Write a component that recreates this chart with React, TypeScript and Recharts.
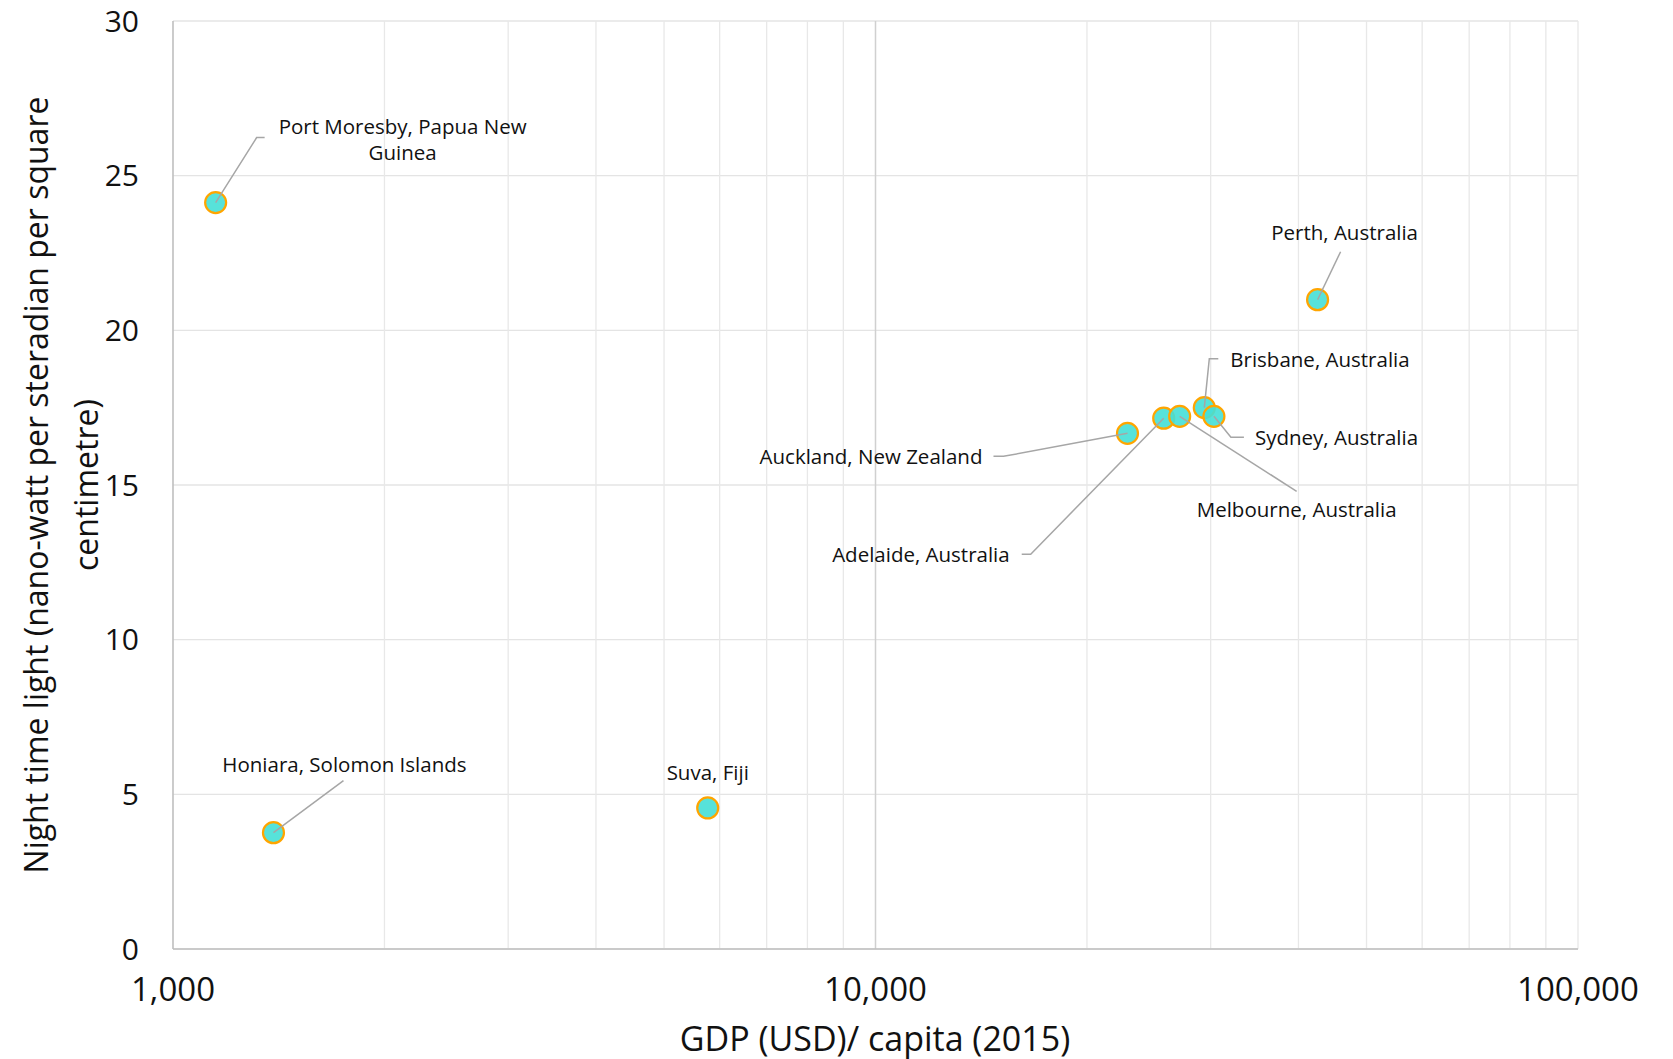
import { CartesianGrid, ReferenceLine, Scatter, ScatterChart, XAxis, YAxis } from "recharts";

const cities = [
  "Port Moresby, Papua New Guinea",
  "Honiara, Solomon Islands",
  "Suva, Fiji",
  "Auckland, New Zealand",
  "Adelaide, Australia",
  "Melbourne, Australia",
  "Brisbane, Australia",
  "Sydney, Australia",
  "Perth, Australia",
];
const gdpPerCapita = [1150, 1390, 5770, 22840, 25720, 27100, 29380, 30320, 42590];
const nightLight = [24.13, 3.76, 4.56, 16.67, 17.16, 17.22, 17.5, 17.22, 20.99];

const xTicks = [1000, 10000, 100000];
const yTicks = [0, 5, 10, 15, 20, 25, 30];
const minorX = [2000, 3000, 4000, 5000, 6000, 7000, 8000, 9000, 20000, 30000, 40000, 50000, 60000, 70000, 80000, 90000, 100000];
const majorX = [10000];

// label callouts: leader line path (relative to the point) and where the text sits
type Callout = { path: number[][]; tx: number; ty: number; anchor: "start" | "middle" | "end" };
const callouts: Record<string, Callout> = {
  "Port Moresby, Papua New Guinea": { path: [[41, -65], [49, -65]], tx: 187, ty: -77, anchor: "middle" },
  "Honiara, Solomon Islands": { path: [[70, -52]], tx: 71, ty: -69, anchor: "middle" },
  "Suva, Fiji": { path: [], tx: 0, ty: -36, anchor: "middle" },
  "Auckland, New Zealand": { path: [[-124, 23], [-134, 23]], tx: -145, ty: 23, anchor: "end" },
  "Adelaide, Australia": { path: [[-133, 136], [-142, 136]], tx: -154, ty: 136, anchor: "end" },
  "Melbourne, Australia": { path: [[117, 75]], tx: 117, ty: 93, anchor: "middle" },
  "Brisbane, Australia": { path: [[5, -49], [14, -49]], tx: 26, ty: -49, anchor: "start" },
  "Sydney, Australia": { path: [[17, 21], [30, 21]], tx: 41, ty: 21, anchor: "start" },
  "Perth, Australia": { path: [[23, -48]], tx: 27, ty: -68, anchor: "middle" },
};

const data = cities.map((name, i) => ({ name, gdp: gdpPerCapita[i], light: nightLight[i] }));

const FONT = "'Open Sans', sans-serif";

const wrap = (s: string, max: number) => {
  const lines: string[] = [];
  let cur = "";
  for (const w of s.split(" ")) {
    const next = cur ? cur + " " + w : w;
    if (next.length > max && cur) {
      lines.push(cur);
      cur = w;
    } else cur = next;
  }
  lines.push(cur);
  return lines;
};

const Dot = (props: any) => {
  const { cx, cy } = props;
  return <circle cx={cx} cy={cy} r={10.5} fill="#45DFD6" fillOpacity={0.9} stroke="#FFA500" strokeWidth={2.2} />;
};

const Callout = (props: any) => {
  const { cx, cy, payload } = props;
  const c = callouts[payload.name];
  if (!c) return null;
  const pts = [[0, 0], ...c.path].map(([dx, dy]) => `${cx + dx},${cy + dy}`).join(" ");
  const lines = wrap(payload.name, 24);
  return (
    <g>
      {c.path.length > 0 && <polyline points={pts} fill="none" stroke="#A6A6A6" strokeWidth={1.5} />}
      {lines.map((l, i) => (
        <text
          key={i}
          x={cx + c.tx}
          y={cy + c.ty + i * 26}
          textAnchor={c.anchor}
          dominantBaseline="central"
          fontFamily={FONT}
          fontSize={20.5}
          fill="#111"
        >
          {l}
        </text>
      ))}
    </g>
  );
};

export default function App() {
  return (
    <div style={{ position: "absolute", left: 0, top: 0, width: 1673, height: 1059, background: "#fff" }}>
      <ScatterChart width={1673} height={1059} margin={{ top: 21, right: 95, left: 93, bottom: 50 }}>
        <CartesianGrid stroke="#E4E4E4" strokeWidth={1.3} vertical={false} />
        {minorX.map((v) => (
          <ReferenceLine key={v} x={v} stroke="#E8E8E8" strokeWidth={1.3} />
        ))}
        {majorX.map((v) => (
          <ReferenceLine key={v} x={v} stroke="#D0D0D0" strokeWidth={1.5} />
        ))}
        <XAxis
          type="number"
          dataKey="gdp"
          scale="log"
          domain={[1000, 100000]}
          ticks={xTicks}
          allowDataOverflow
          height={60}
          tickSize={0}
          tickMargin={29}
          tickFormatter={(v: number) => v.toLocaleString("en-US")}
          tick={{ fontFamily: FONT, fontSize: 33, fill: "#111" }}
          stroke="#BFBFBF"
          strokeWidth={1.6}
        />
        <YAxis
          type="number"
          dataKey="light"
          domain={[0, 30]}
          ticks={yTicks}
          width={80}
          tickSize={0}
          tickMargin={34}
          tick={{ fontFamily: FONT, fontSize: 30, fill: "#111" }}
          stroke="#BFBFBF"
          strokeWidth={1.6}
        />
        <Scatter data={data} shape={Dot} isAnimationActive={false} />
        <Scatter data={data} shape={Callout} isAnimationActive={false} />
      </ScatterChart>
      <div
        style={{
          position: "absolute",
          left: 61,
          top: 485,
          width: 1000,
          transform: "translate(-50%, -50%) rotate(-90deg)",
          textAlign: "center",
          fontFamily: FONT,
          fontSize: 32,
          lineHeight: "50px",
          color: "#111",
        }}
      >
        Night time light (nano-watt per steradian per square
        <br />
        centimetre)
      </div>
      <div
        style={{
          position: "absolute",
          left: 875,
          top: 1038,
          transform: "translate(-50%, -50%)",
          whiteSpace: "nowrap",
          fontFamily: FONT,
          fontSize: 34,
          color: "#111",
        }}
      >
        GDP (USD)/ capita (2015)
      </div>
    </div>
  );
}
